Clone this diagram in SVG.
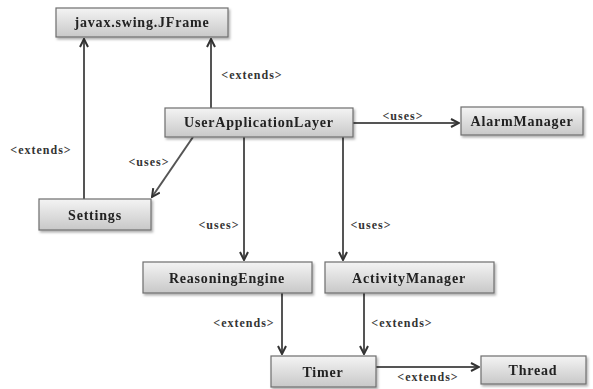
<svg xmlns="http://www.w3.org/2000/svg" width="593" height="389" viewBox="0 0 593 389">
<style>
.box{fill:url(#g);stroke:#6e6e6e;stroke-width:1.2}
.nt{font-family:"Liberation Serif",serif;font-weight:bold;font-size:14px;letter-spacing:0.8px;fill:#222;text-anchor:middle}
.lt{font-family:"Liberation Serif",serif;font-weight:bold;font-size:12px;letter-spacing:1px;fill:#333;text-anchor:middle}
.c{stroke:#555;stroke-width:2;fill:none;marker-end:url(#a)}
</style>
<defs>
<linearGradient id="g" x1="0" y1="0" x2="0" y2="1">
<stop offset="0" stop-color="#f4f4f4"/>
<stop offset="1" stop-color="#c8c8c8"/>
</linearGradient>
<marker id="a" viewBox="0 0 10 10" refX="9" refY="5" markerWidth="5" markerHeight="5" orient="auto" markerUnits="strokeWidth">
<path d="M1,1 L9,5 L1,9" fill="none" stroke="#333" stroke-width="2"/>
</marker>
<filter id="s" x="-10%" y="-20%" width="130%" height="160%">
<feDropShadow dx="1.5" dy="2" stdDeviation="1" flood-color="#000" flood-opacity="0.3"/>
</filter>
</defs>
<rect width="593" height="389" fill="#fff"/>
<g id="connectors">
<line class="c" x1="84" y1="199" x2="84" y2="39"/>
<line class="c" x1="211" y1="108" x2="211" y2="39"/>
<line class="c" x1="193" y1="137" x2="152" y2="197"/>
<line class="c" x1="353" y1="123" x2="459" y2="123"/>
<line class="c" x1="244" y1="137" x2="244" y2="260"/>
<line class="c" x1="343" y1="137" x2="343" y2="260"/>
<line class="c" x1="282" y1="293" x2="282" y2="354"/>
<line class="c" x1="364" y1="293" x2="364" y2="354"/>
<line class="c" x1="376" y1="367" x2="479" y2="367"/>
<text class="lt" x="41" y="154">&lt;extends&gt;</text>
<text class="lt" x="252" y="79">&lt;extends&gt;</text>
<text class="lt" x="149" y="166">&lt;uses&gt;</text>
<text class="lt" x="403" y="120">&lt;uses&gt;</text>
<text class="lt" x="219" y="229">&lt;uses&gt;</text>
<text class="lt" x="371" y="229">&lt;uses&gt;</text>
<text class="lt" x="244" y="327">&lt;extends&gt;</text>
<text class="lt" x="402" y="327">&lt;extends&gt;</text>
<text class="lt" x="428" y="381">&lt;extends&gt;</text>
</g>
<g id="jframe" filter="url(#s)"><rect class="box" x="56" y="8" width="172" height="29"/><text class="nt" x="142" y="27">javax.swing.JFrame</text></g>
<g id="ual" filter="url(#s)"><rect class="box" x="165" y="108" width="188" height="29"/><text class="nt" x="259" y="127">UserApplicationLayer</text></g>
<g id="alarm" filter="url(#s)"><rect class="box" x="461" y="107" width="122" height="28"/><text class="nt" x="522" y="126">AlarmManager</text></g>
<g id="settings" filter="url(#s)"><rect class="box" x="39" y="199" width="112" height="31"/><text class="nt" x="95" y="220">Settings</text></g>
<g id="reasoning" filter="url(#s)"><rect class="box" x="143" y="262" width="169" height="31"/><text class="nt" x="227" y="283">ReasoningEngine</text></g>
<g id="activity" filter="url(#s)"><rect class="box" x="325" y="262" width="169" height="31"/><text class="nt" x="409" y="283">ActivityManager</text></g>
<g id="timer" filter="url(#s)"><rect class="box" x="271" y="356" width="105" height="31"/><text class="nt" x="323" y="377">Timer</text></g>
<g id="thread" filter="url(#s)"><rect class="box" x="481" y="356" width="105" height="28"/><text class="nt" x="533" y="375">Thread</text></g>
</svg>
